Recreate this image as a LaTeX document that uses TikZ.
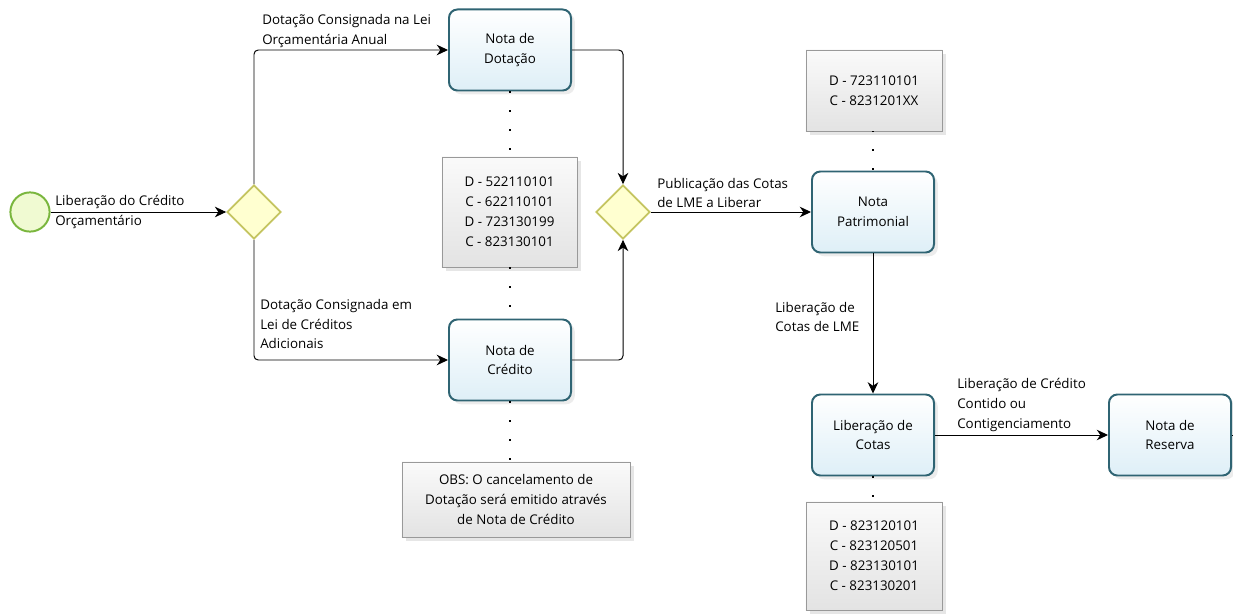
\documentclass[tikz,border=0pt]{standalone}
\usepackage{fontspec}
\setmainfont{Open Sans}
\usepackage{tikz}
\usetikzlibrary{arrows,arrows.meta,shapes,shadows}

\definecolor{bordatarefa}{RGB}{47,100,115}
\definecolor{fundotarefa}{RGB}{222,239,247}
\definecolor{bordagate}{RGB}{196,196,96}
\definecolor{fundogate}{RGB}{255,255,208}
\definecolor{bordainicio}{RGB}{122,182,62}
\definecolor{fundoinicio}{RGB}{240,250,210}

\begin{document}
\begin{tikzpicture}[x=0.025cm, y=-0.025cm, font=\fontsize{9.5}{14.2}\selectfont,
		tarefa/.style={rectangle,draw=bordatarefa,line width=1.4pt,rounded corners=6pt,top color=white,bottom color=fundotarefa,minimum width=3.05cm,minimum height=2.025cm,align=center,drop shadow={opacity=0.15}},
		dados/.style={rectangle,draw=black!40,line width=0.5pt,top color=black!2,bottom color=black!11,align=center,drop shadow={opacity=0.2}},
		decisao/.style={diamond,draw=bordagate,line width=1.2pt,fill=fundogate,minimum size=1.35cm,inner sep=0pt},
		inicio/.style={circle,draw=bordainicio,line width=1.4pt,fill=fundoinicio,minimum size=0.98cm,inner sep=0pt},
		rotulo/.style={align=left,inner sep=0pt,anchor=west},
		fluxo/.style={->,>={Stealth[length=8pt,width=7.5pt,inset=2.5pt]},line width=0.7pt,rounded corners=3pt},
		assoc/.style={line width=1.1pt,dash pattern=on 1.1pt off 12.4pt}]
	\useasboundingbox (0,0) rectangle (1233,615);

	% eventos e decisoes
	\node[inicio] (inicio) at (30,212) {};
	\node[decisao] (g1) at (254,212) {};
	\node[decisao] (g2) at (623,212) {};

	% tarefas
	\node[tarefa] (dotacao) at (510,50) {Nota de\\Dotação};
	\node[tarefa] (credito) at (510,360) {Nota de\\Crédito};
	\node[tarefa] (patrimonial) at (873,212) {Nota\\Patrimonial};
	\node[tarefa] (cotas) at (873,435) {Liberação de\\Cotas};
	\node[tarefa] (reserva) at (1170,435) {Nota de\\Reserva};
	\coordinate (saida) at (1233,435);

	% contas
	\node[dados,minimum width=3.375cm,minimum height=2.75cm] (contas1) at (509.5,212) {D - 522110101\\C - 622110101\\D - 723130199\\C - 823130101};
	\node[dados,minimum width=5.7cm,minimum height=1.875cm] (obs) at (516,499.5) {OBS: O cancelamento de\\Dotação será emitido através\\de Nota de Crédito};
	\node[dados,minimum width=3.4cm,minimum height=2.025cm] (contas2) at (874,90.5) {D - 723110101\\C - 8231201XX};
	\node[dados,minimum width=3.4cm,minimum height=2.7cm] (contas3) at (874,556) {D - 823120101\\C - 823120501\\D - 823130101\\C - 823130201};

	% fluxos
	\draw[fluxo] (inicio) -- (g1);
	\node[rotulo] (r1) at (55,212) {Liberação do Crédito\\Orçamentário};
	\draw[fluxo] (g1.north) |- (dotacao.west);
	\node[rotulo] (r2) at (262,31) {Dotação Consignada na Lei\\Orçamentária Anual};
	\draw[fluxo] (g1.south) |- (credito.west);
	\node[rotulo] (r3) at (260,324) {Dotação Consignada em\\Lei de Créditos\\Adicionais};
	\draw[fluxo] (dotacao.east) -| (g2.north);
	\draw[fluxo] (credito.east) -| (g2.south);
	\draw[fluxo] (g2.east) -- (patrimonial.west);
	\node[rotulo] (r4) at (657,193) {Publicação das Cotas\\de LME a Liberar};
	\draw[fluxo] (patrimonial.south) -- (cotas.north);
	\node[rotulo] (r5) at (775,317) {Liberação de\\Cotas de LME};
	\draw[fluxo] (cotas.east) -- (reserva.west);
	\node[rotulo] (r6) at (957,405) {Liberação de Crédito\\Contido ou\\Contigenciamento};
	\draw[line width=0.7pt] (reserva.east) -- (saida);

	% associacoes
	\draw[assoc] (dotacao.south) -- (dotacao.south |- contas1.north);
	\draw[assoc] (dotacao.south |- contas1.south) -- (credito.north);
	\draw[assoc] (credito.south) -- (credito.south |- obs.north);
	\draw[assoc] (contas2.south) -- (contas2.south -| patrimonial.north) -- (patrimonial.north);
	\draw[assoc] (cotas.south) -- (cotas.south |- contas3.north);
\end{tikzpicture}
\end{document}
